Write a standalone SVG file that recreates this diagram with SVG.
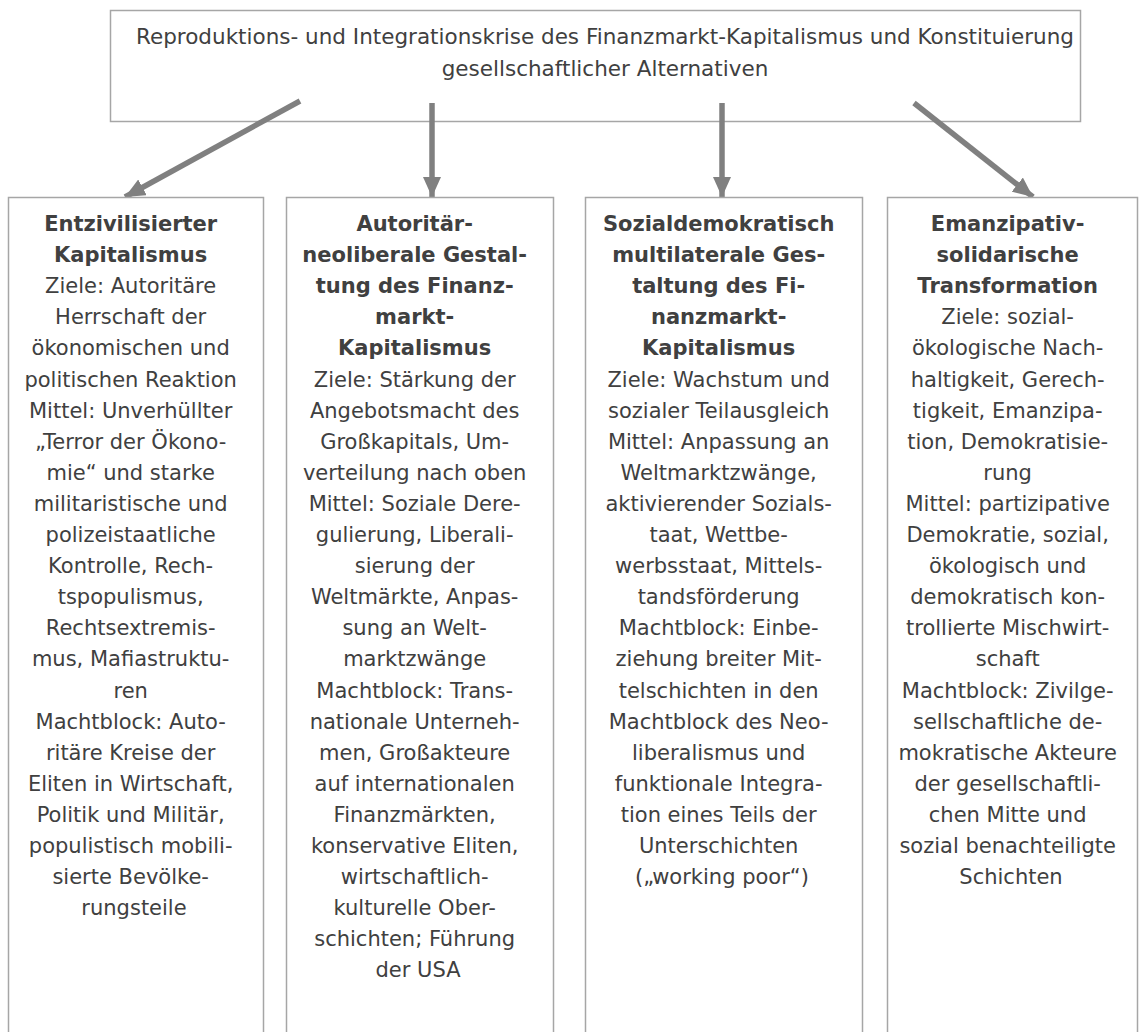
<svg xmlns="http://www.w3.org/2000/svg" width="1146" height="1032" viewBox="0 0 1146 1032">
<style>
.box{fill:#ffffff;stroke:#a6a6a6;stroke-width:1.5}
.t{font-family:"DejaVu Sans",Verdana,sans-serif;font-size:21px;fill:#404040;text-anchor:middle}
.b{font-weight:bold}
.title{font-family:"DejaVu Sans",Verdana,sans-serif;font-size:21.5px;fill:#404040;text-anchor:middle}
.arr{stroke:#808080;stroke-width:5.5;fill:none;marker-end:url(#ah)}
</style>
<defs>
<marker id="ah" markerUnits="userSpaceOnUse" viewBox="0 0 20 18" refX="20" refY="9" markerWidth="20" markerHeight="18" orient="auto">
<path d="M0,0 L20,9 L0,18 z" fill="#808080"/>
</marker>
</defs>
<rect width="1146" height="1032" fill="#ffffff"/>
<g id="top">
<rect class="box" x="110.5" y="10.5" width="970" height="111"/>
<text class="title" x="605" y="44">Reproduktions- und Integrationskrise des Finanzmarkt-Kapitalismus und Konstituierung</text>
<text class="title" x="605" y="76">gesellschaftlicher Alternativen</text>
</g>
<g id="connectors">
<line class="arr" x1="300" y1="101" x2="125" y2="197"/>
<line class="arr" x1="432" y1="103" x2="432" y2="197"/>
<line class="arr" x1="722" y1="103" x2="722" y2="197"/>
<line class="arr" x1="914" y1="103" x2="1033" y2="197"/>
</g>
<g id="n1">
<rect class="box" x="8.5" y="197.5" width="255" height="850"/>
<text class="t" x="134" y="231">
<tspan class="b" x="134">Entzivilisierter</tspan>
<tspan class="b" x="134" dy="31.1">Kapitalismus</tspan>
<tspan x="134" dy="31.1">Ziele: Autoritäre</tspan>
<tspan x="134" dy="31.1">Herrschaft der</tspan>
<tspan x="134" dy="31.1">ökonomischen und</tspan>
<tspan x="134" dy="31.1">politischen Reaktion</tspan>
<tspan x="134" dy="31.1">Mittel: Unverhüllter</tspan>
<tspan x="134" dy="31.1">„Terror der Ökono-</tspan>
<tspan x="134" dy="31.1">mie“ und starke</tspan>
<tspan x="134" dy="31.1">militaristische und</tspan>
<tspan x="134" dy="31.1">polizeistaatliche</tspan>
<tspan x="134" dy="31.1">Kontrolle, Rech-</tspan>
<tspan x="134" dy="31.1">tspopulismus,</tspan>
<tspan x="134" dy="31.1">Rechtsextremis-</tspan>
<tspan x="134" dy="31.1">mus, Mafiastruktu-</tspan>
<tspan x="134" dy="31.1">ren</tspan>
<tspan x="134" dy="31.1">Machtblock: Auto-</tspan>
<tspan x="134" dy="31.1">ritäre Kreise der</tspan>
<tspan x="134" dy="31.1">Eliten in Wirtschaft,</tspan>
<tspan x="134" dy="31.1">Politik und Militär,</tspan>
<tspan x="134" dy="31.1">populistisch mobili-</tspan>
<tspan x="134" dy="31.1">sierte Bevölke-</tspan>
<tspan x="134" dy="31.1">rungsteile</tspan>
</text>
</g>
<g id="n2">
<rect class="box" x="286.5" y="197.5" width="267" height="850"/>
<text class="t" x="418" y="231">
<tspan class="b" x="418">Autoritär-</tspan>
<tspan class="b" x="418" dy="31.1">neoliberale Gestal-</tspan>
<tspan class="b" x="418" dy="31.1">tung des Finanz-</tspan>
<tspan class="b" x="418" dy="31.1">markt-</tspan>
<tspan class="b" x="418" dy="31.1">Kapitalismus</tspan>
<tspan x="418" dy="31.1">Ziele: Stärkung der</tspan>
<tspan x="418" dy="31.1">Angebotsmacht des</tspan>
<tspan x="418" dy="31.1">Großkapitals, Um-</tspan>
<tspan x="418" dy="31.1">verteilung nach oben</tspan>
<tspan x="418" dy="31.1">Mittel: Soziale Dere-</tspan>
<tspan x="418" dy="31.1">gulierung, Liberali-</tspan>
<tspan x="418" dy="31.1">sierung der</tspan>
<tspan x="418" dy="31.1">Weltmärkte, Anpas-</tspan>
<tspan x="418" dy="31.1">sung an Welt-</tspan>
<tspan x="418" dy="31.1">marktzwänge</tspan>
<tspan x="418" dy="31.1">Machtblock: Trans-</tspan>
<tspan x="418" dy="31.1">nationale Unterneh-</tspan>
<tspan x="418" dy="31.1">men, Großakteure</tspan>
<tspan x="418" dy="31.1">auf internationalen</tspan>
<tspan x="418" dy="31.1">Finanzmärkten,</tspan>
<tspan x="418" dy="31.1">konservative Eliten,</tspan>
<tspan x="418" dy="31.1">wirtschaftlich-</tspan>
<tspan x="418" dy="31.1">kulturelle Ober-</tspan>
<tspan x="418" dy="31.1">schichten; Führung</tspan>
<tspan x="418" dy="31.1">der USA</tspan>
</text>
</g>
<g id="n3">
<rect class="box" x="585.5" y="197.5" width="277" height="850"/>
<text class="t" x="722" y="231">
<tspan class="b" x="722">Sozialdemokratisch</tspan>
<tspan class="b" x="722" dy="31.1">multilaterale Ges-</tspan>
<tspan class="b" x="722" dy="31.1">taltung des Fi-</tspan>
<tspan class="b" x="722" dy="31.1">nanzmarkt-</tspan>
<tspan class="b" x="722" dy="31.1">Kapitalismus</tspan>
<tspan x="722" dy="31.1">Ziele: Wachstum und</tspan>
<tspan x="722" dy="31.1">sozialer Teilausgleich</tspan>
<tspan x="722" dy="31.1">Mittel: Anpassung an</tspan>
<tspan x="722" dy="31.1">Weltmarktzwänge,</tspan>
<tspan x="722" dy="31.1">aktivierender Sozials-</tspan>
<tspan x="722" dy="31.1">taat, Wettbe-</tspan>
<tspan x="722" dy="31.1">werbsstaat, Mittels-</tspan>
<tspan x="722" dy="31.1">tandsförderung</tspan>
<tspan x="722" dy="31.1">Machtblock: Einbe-</tspan>
<tspan x="722" dy="31.1">ziehung breiter Mit-</tspan>
<tspan x="722" dy="31.1">telschichten in den</tspan>
<tspan x="722" dy="31.1">Machtblock des Neo-</tspan>
<tspan x="722" dy="31.1">liberalismus und</tspan>
<tspan x="722" dy="31.1">funktionale Integra-</tspan>
<tspan x="722" dy="31.1">tion eines Teils der</tspan>
<tspan x="722" dy="31.1">Unterschichten</tspan>
<tspan x="722" dy="31.1">(„working poor“)</tspan>
</text>
</g>
<g id="n4">
<rect class="box" x="887.5" y="197.5" width="250" height="850"/>
<text class="t" x="1011" y="231">
<tspan class="b" x="1011">Emanzipativ-</tspan>
<tspan class="b" x="1011" dy="31.1">solidarische</tspan>
<tspan class="b" x="1011" dy="31.1">Transformation</tspan>
<tspan x="1011" dy="31.1">Ziele: sozial-</tspan>
<tspan x="1011" dy="31.1">ökologische Nach-</tspan>
<tspan x="1011" dy="31.1">haltigkeit, Gerech-</tspan>
<tspan x="1011" dy="31.1">tigkeit, Emanzipa-</tspan>
<tspan x="1011" dy="31.1">tion, Demokratisie-</tspan>
<tspan x="1011" dy="31.1">rung</tspan>
<tspan x="1011" dy="31.1">Mittel: partizipative</tspan>
<tspan x="1011" dy="31.1">Demokratie, sozial,</tspan>
<tspan x="1011" dy="31.1">ökologisch und</tspan>
<tspan x="1011" dy="31.1">demokratisch kon-</tspan>
<tspan x="1011" dy="31.1">trollierte Mischwirt-</tspan>
<tspan x="1011" dy="31.1">schaft</tspan>
<tspan x="1011" dy="31.1">Machtblock: Zivilge-</tspan>
<tspan x="1011" dy="31.1">sellschaftliche de-</tspan>
<tspan x="1011" dy="31.1">mokratische Akteure</tspan>
<tspan x="1011" dy="31.1">der gesellschaftli-</tspan>
<tspan x="1011" dy="31.1">chen Mitte und</tspan>
<tspan x="1011" dy="31.1">sozial benachteiligte</tspan>
<tspan x="1011" dy="31.1">Schichten</tspan>
</text>
</g>
</svg>
